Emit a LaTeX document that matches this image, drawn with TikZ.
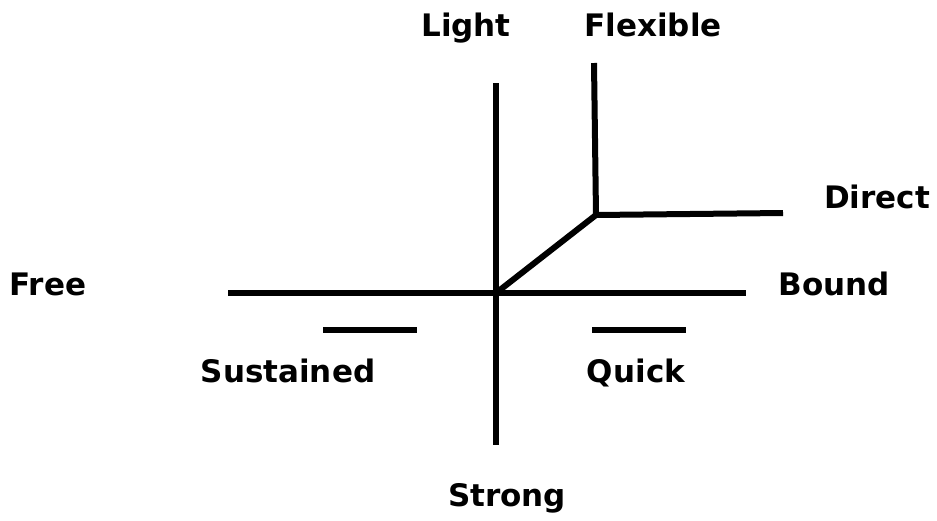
\documentclass[tikz,border=0pt]{standalone}
\usepackage{fontspec}
\setmainfont{DejaVu Sans}
\begin{document}
\begin{tikzpicture}[x=1pt,y=-1pt,
  lbl/.style={font=\fontsize{31}{37}\selectfont\bfseries, anchor=base, inner sep=0pt},
  axis/.style={line width=6pt, line cap=butt}]
\useasboundingbox (0,0) rectangle (937,520);
% coordinates
\coordinate (vtop) at (496,83);
\coordinate (vbot) at (496,445);
\coordinate (hl) at (228,293);
\coordinate (hr) at (746,293);
\coordinate (o) at (496,293);
\coordinate (ftop) at (594,63);
\coordinate (fcorner) at (596,215);
\coordinate (dend) at (783,213);
\coordinate (sl) at (323,330);
\coordinate (sr) at (417,330);
\coordinate (ql) at (592,330);
\coordinate (qr) at (686,330);
% lines
\draw[axis] (vtop) -- (vbot);
\draw[axis] (hl) -- (hr);
\draw[axis, line join=round] (ftop) -- (fcorner) -- (dend);
\draw[axis, line cap=round] (o) -- (fcorner);
\draw[axis] (sl) -- (sr);
\draw[axis] (ql) -- (qr);
% labels
\node[lbl] (light) at (466,36) {Light};
\node[lbl] (flexible) at (653,36) {Flexible};
\node[lbl] (direct) at (877,208) {Direct};
\node[lbl] (free) at (48,295) {Free};
\node[lbl] (bound) at (834,295) {Bound};
\node[lbl] (sustained) at (288,382) {Sustained};
\node[lbl] (quick) at (636,382) {Quick};
\node[lbl] (strong) at (507,506) {Strong};
\end{tikzpicture}
\end{document}
